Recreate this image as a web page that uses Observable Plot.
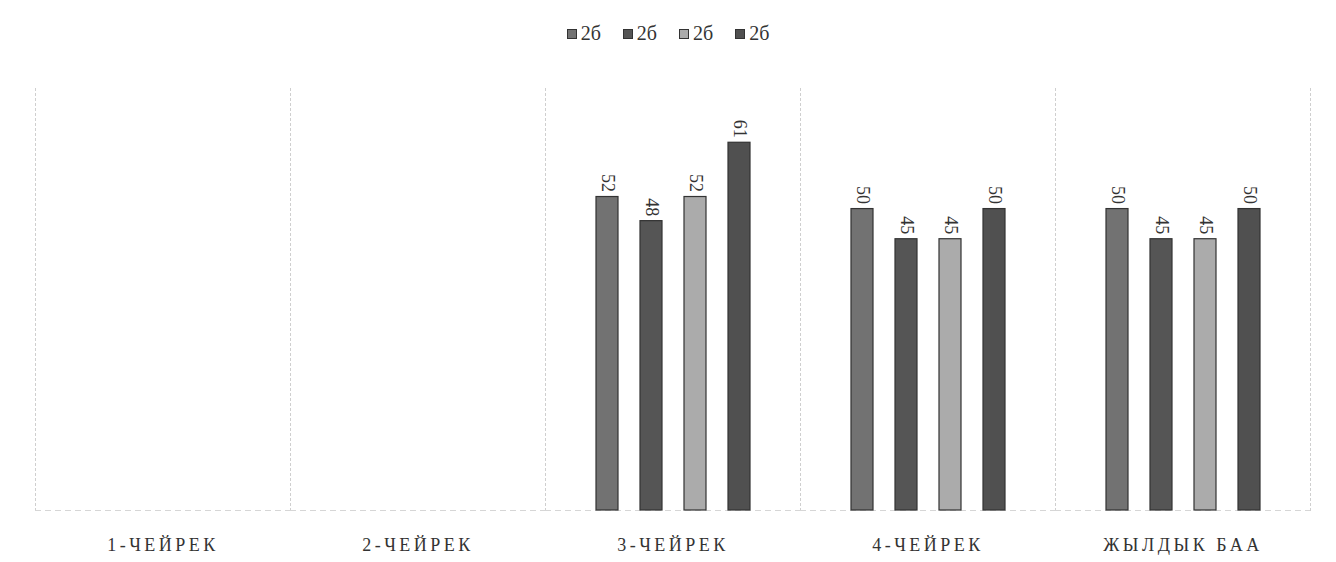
<!DOCTYPE html>
<html>
<head>
<meta charset="utf-8">
<script src="https://cdn.jsdelivr.net/npm/d3@7"></script>
<script src="https://cdn.jsdelivr.net/npm/@observablehq/plot@0.6"></script>
<style>
  body { margin: 0; background: #fff; }
  #legend { height: 60px; display: flex; justify-content: center; align-items: flex-start; box-sizing: border-box;
            font-family: "Liberation Serif", "DejaVu Serif", serif; font-size: 20px; color: #333; }
  #legend .inner { display: flex; gap: 22px; margin-top: 22px; margin-left: 0px; }
  #legend .item { display: flex; align-items: center; gap: 4px; }
  #legend .sw { width: 10px; height: 10px; border: 1px solid #333; box-sizing: border-box; }
  #chart g[aria-label^="fx-axis"] text { letter-spacing: 3.5px; font-size: 18px; }
</style>
</head>
<body>
<div id="legend"><div class="inner"></div></div>
<div id="chart"></div>
<script>
const categories = ["1-ЧЕЙРЕК", "2-ЧЕЙРЕК", "3-ЧЕЙРЕК", "4-ЧЕЙРЕК", "ЖЫЛДЫК БАА"];
const seriesNames = ["2б", "2б", "2б", "2б"];
const series1 = [null, null, 52, 50, 50];
const series2 = [null, null, 48, 45, 45];
const series3 = [null, null, 52, 45, 45];
const series4 = [null, null, 61, 50, 50];
const seriesColors = ["#727272", "#555555", "#ababab", "#505050"];

const allSeries = [series1, series2, series3, series4];
const data = [];
categories.forEach((c, i) => {
  allSeries.forEach((s, j) => {
    if (s[i] != null) data.push({cat: c, s: j, value: s[i]});
  });
});

const legendInner = document.querySelector("#legend .inner");
seriesNames.forEach((n, j) => {
  const it = document.createElement("div");
  it.className = "item";
  it.innerHTML = `<span class="sw" style="background:${seriesColors[j]}"></span><span>${n}</span>`;
  legendInner.appendChild(it);
});

const plot = Plot.plot({
  width: 1336,
  height: 502,
  marginLeft: 35,
  marginRight: 26,
  marginTop: 28,
  marginBottom: 52,
  style: {fontFamily: "'Liberation Serif', 'DejaVu Serif', serif", fontSize: "16px", color: "#333", background: "#fff"},
  fx: {domain: categories, padding: 0, axis: "bottom", tickSize: 0, tickPadding: 28, label: null},
  x: {domain: [0, 1, 2, 3], paddingInner: 0.5, paddingOuter: 1.14, axis: null},
  y: {domain: [0, 70], axis: null},
  color: {domain: [0, 1, 2, 3], range: seriesColors},
  marks: [
    Plot.frame({anchor: "left", stroke: "#cfcfcf", strokeDasharray: "2,3"}),
    Plot.frame({anchor: "right", stroke: "#cfcfcf", strokeDasharray: "2,3"}),
    Plot.ruleY(categories, {fx: d => d, y: () => 0, stroke: "#d6d6d6", strokeDasharray: "6,4"}),
    Plot.barY(data, {fx: "cat", x: "s", y: "value", fill: "s", stroke: "#333", strokeWidth: 1.2}),
    Plot.text(data, {fx: "cat", x: "s", y: "value", text: d => String(d.value), rotate: 90, textAnchor: "end", lineAnchor: "middle", dy: -5, fill: "#333", fontSize: 18})
  ]
});
document.getElementById("chart").appendChild(plot);
</script>
</body>
</html>
